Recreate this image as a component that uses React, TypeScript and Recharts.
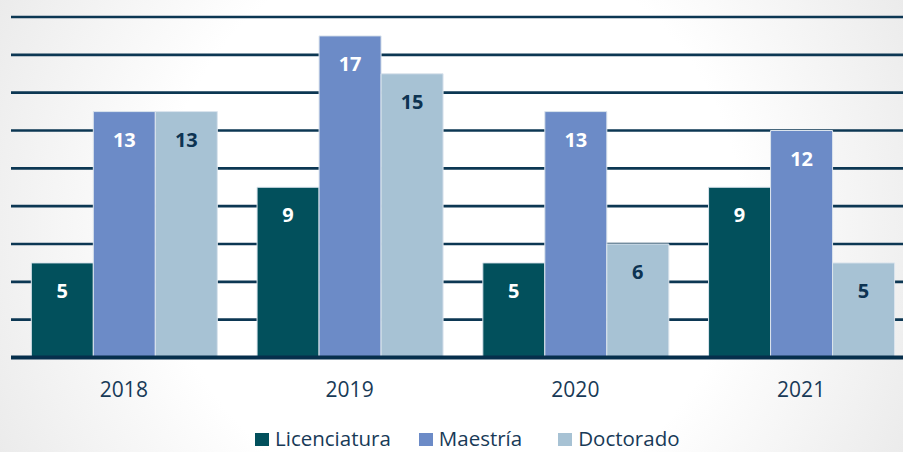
import React from "react";
import { BarChart, Bar, XAxis, YAxis, CartesianGrid, LabelList } from "recharts";

const years = ["2018", "2019", "2020", "2021"];
const licenciatura = [5, 9, 5, 9];
const maestria = [13, 17, 13, 12];
const doctorado = [13, 15, 6, 5];
const yTicks = [0, 2, 4, 6, 8, 10, 12, 14, 16, 18];

const series = [
  { key: "licenciatura", name: "Licenciatura", color: "#02505c", label: "#ffffff" },
  { key: "maestria", name: "Maestría", color: "#6c8bc7", label: "#ffffff" },
  { key: "doctorado", name: "Doctorado", color: "#a7c2d4", label: "#0d3352" },
];

const data = years.map((y, i) => ({
  year: y,
  licenciatura: licenciatura[i],
  maestria: maestria[i],
  doctorado: doctorado[i],
}));

const FONT = "'Open Sans', sans-serif";
const TEXT = "#183a57";

export default function App() {
  return (
    <div
      style={{
        position: "absolute",
        left: 0,
        top: 0,
        width: 903,
        height: 452,
        overflow: "hidden",
        background:
          "radial-gradient(circle at 50% 50%, #ffffff 290px, #e6e6e6 560px)",
        fontFamily: FONT,
      }}
    >
      <BarChart
        width={914}
        height={452}
        data={data}
        margin={{ top: 17, right: 0, left: 11, bottom: 0 }}
        barCategoryGap="9%"
        barGap={0}
      >
        <CartesianGrid
          horizontal
          vertical={false}
          stroke="#0c3753"
          strokeWidth={2.6}
        />
        <YAxis hide domain={[0, 18]} ticks={yTicks} width={0} />
        <XAxis
          dataKey="year"
          height={94.5}
          axisLine={{ stroke: "#062f4c", strokeWidth: 4 }}
          tickLine={false}
          tickSize={0}
          tickMargin={25}
          tick={{ fill: TEXT, fontSize: 21, fontFamily: FONT }}
        />
        {series.map((s) => (
          <Bar
            key={s.key}
            dataKey={s.key}
            name={s.name}
            fill={s.color}
            stroke="#dbe4ed"
            strokeWidth={1}
            isAnimationActive={false}
          >
            <LabelList
              dataKey={s.key}
              position="insideTop"
              offset={21}
              fill={s.label}
              fontSize={20}
              fontWeight={700}
              fontFamily={FONT}
            />
          </Bar>
        ))}
      </BarChart>
      <div
        style={{
          position: "absolute",
          left: 255,
          top: 428,
          display: "flex",
          alignItems: "flex-start",
          height: 20,
          lineHeight: "20px",
        }}
      >
        {series.map((s, i) => (
          <div
            key={s.key}
            style={{
              display: "flex",
              alignItems: "flex-start",
              marginRight: i === 0 ? 28 : 36,
            }}
          >
            <div style={{ width: 14, height: 13, background: s.color, marginRight: 6, marginTop: 5 }} />
            <span style={{ fontSize: 20.5, lineHeight: "20px", color: TEXT, fontFamily: FONT }}>{s.name}</span>
          </div>
        ))}
      </div>
    </div>
  );
}
